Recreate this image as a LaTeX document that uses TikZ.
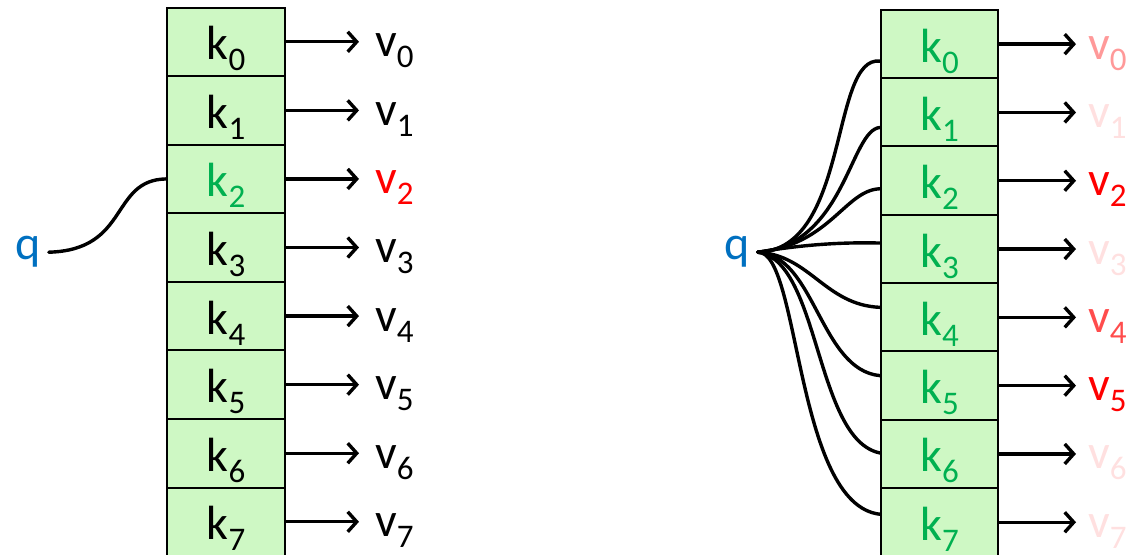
\documentclass[tikz,border=0pt]{standalone}
\usepackage{fontspec}
\setmainfont{Carlito}
\usetikzlibrary{arrows.meta,calc}
\definecolor{keygreen}{RGB}{0,176,80}
\definecolor{qblue}{RGB}{0,112,192}
\definecolor{cellfill}{RGB}{206,248,196}
\newcommand\subs[1]{\raisebox{-.23em}{\fontsize{33bp}{33bp}\selectfont#1}}
\tikzset{
  cell/.style={draw,line width=2bp,fill=cellfill,minimum height=68.57bp,inner sep=0pt,text height=52.25bp,text depth=16.25bp},
  val/.style={anchor=base west,inner sep=0pt},
  query/.style={text=qblue,anchor=base,inner sep=8bp},
  wire/.style={line width=3.4bp,line cap=round},
  pt/.style={wire,->}
}
\begin{document}
\begin{tikzpicture}[x=1bp,y=-1bp,>={Straight Barb[length=9bp,width=20bp]},font=\fontsize{48bp}{48bp}\selectfont]
\useasboundingbox (0,0) rectangle (1128,555);
% left: one key matches q
\foreach \i/\c in {0/black,1/black,2/keygreen,3/black,4/black,5/black,6/black,7/black}{
  \node[cell,minimum width=118bp,text=\c] (lk\i) at (226,{41.8+68.57*\i}) {k\subs{\i}};
}
\foreach \i/\c in {0/black,1/black,2/red,3/black,4/black,5/black,6/black,7/black}{
  \node[val,text=\c] (lv\i) at (375,{41.8+68.57*\i+15}) {v\subs{\i}};
  \draw[pt,shorten >=16bp] (lk\i.east) -- (lk\i.east -| lv\i.west);
}
\node[query] (lq) at (28,260) {q};
\draw[wire] (lq.east) .. controls (130,250) and (110,180) .. (lk2.west);
% right: q is compared with every key
\foreach \i in {0,...,7}{
  \node[cell,minimum width=117bp,minimum height=68.3bp,text=keygreen] (rk\i) at (939.5,{44.15+68.3*\i}) {k\subs{\i}};
}
\foreach \i/\c in {0/red!40,1/red!12,2/red,3/red!12,4/red!70,5/red,6/red!12,7/red!12}{
  \node[val,text=\c] (rv\i) at (1088,{44.15+68.3*\i+15}) {v\subs{\i}};
  \draw[pt,shorten >=12bp] (rk\i.east) -- (rk\i.east -| rv\i.west);
}
\node[query] (rq) at (737,260) {q};
\foreach \i/\d/\ax/\ay/\bx/\by in {0/17/850/250/830/55,1/15/845/245/850/130,2/8/830/245/845/190,3/-6/800/245/840/242,
  4/-10/810/255/825/305,5/-10/815/255/820/370,6/-1/820/260/815/440,7/-8/800/250/795/505}{
  \draw[wire] (rq.east) .. controls (\ax,\ay) and (\bx,\by) .. ($(rk\i.west)+(0,\d)$);
}
\end{tikzpicture}
\end{document}
